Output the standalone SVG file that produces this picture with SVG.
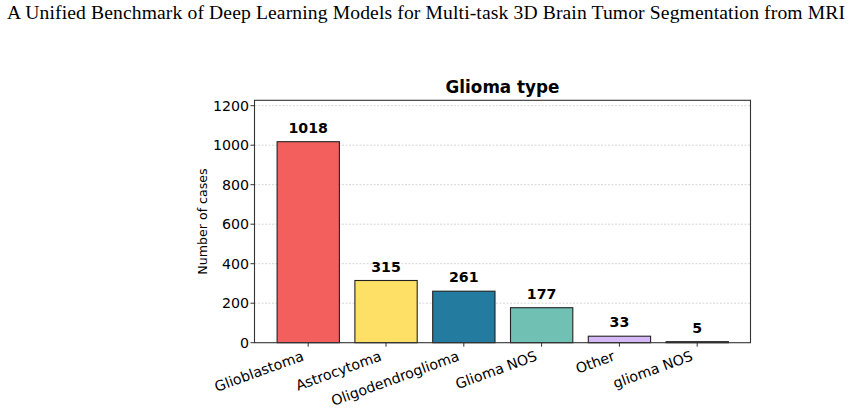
<svg xmlns="http://www.w3.org/2000/svg" width="852" height="410" viewBox="0 0 852 410">
<style>
.hdr{font-family:"Liberation Serif","Times New Roman",serif;font-size:19.6px;fill:#000}
.ttl{font-family:"DejaVu Sans",sans-serif;font-size:16.8px;font-weight:bold;fill:#000}
.tick{font-family:"DejaVu Sans",sans-serif;font-size:14.2px;fill:#000}
.val{font-family:"DejaVu Sans",sans-serif;font-size:14.2px;font-weight:bold;fill:#000;text-anchor:middle}
.ylab{font-family:"DejaVu Sans",sans-serif;font-size:12.6px;fill:#000;text-anchor:middle}
.grid{stroke:#cccccc;stroke-width:0.8;stroke-dasharray:2,1.5}
.bar{stroke:#222;stroke-width:1.1}
.spine{fill:none;stroke:#333;stroke-width:1.1}
.tk{stroke:#333;stroke-width:1}
</style>
<rect width="852" height="410" fill="#fff"/>
<text class="hdr" x="7" y="19" textLength="838" lengthAdjust="spacing">A Unified Benchmark of Deep Learning Models for Multi-task 3D Brain Tumor Segmentation from MRI</text>
<text class="ttl" x="502.5" y="93.3" text-anchor="middle">Glioma type</text>
<g id="grid">
<line class="grid" x1="254.5" y1="303.2" x2="750.5" y2="303.2"/>
<line class="grid" x1="254.5" y1="263.7" x2="750.5" y2="263.7"/>
<line class="grid" x1="254.5" y1="224.2" x2="750.5" y2="224.2"/>
<line class="grid" x1="254.5" y1="184.7" x2="750.5" y2="184.7"/>
<line class="grid" x1="254.5" y1="145.2" x2="750.5" y2="145.2"/>
<line class="grid" x1="254.5" y1="105.7" x2="750.5" y2="105.7"/>
</g>
<g id="bars">
<rect id="bar-glioblastoma" class="bar" x="277.1" y="141.7" width="62.3" height="201" fill="#f25f5c"/>
<rect id="bar-astrocytoma" class="bar" x="354.9" y="280.5" width="62.3" height="62.2" fill="#ffe066"/>
<rect id="bar-oligodendroglioma" class="bar" x="432.7" y="291.2" width="62.3" height="51.5" fill="#247ba0"/>
<rect id="bar-glioma-nos" class="bar" x="510.5" y="307.7" width="62.3" height="35" fill="#70c1b3"/>
<rect id="bar-other" class="bar" x="588.3" y="336.2" width="62.3" height="6.5" fill="#d5b8f5"/>
<rect id="bar-glioma-nos-lc" class="bar" x="666.1" y="341.7" width="62.3" height="1" fill="#333"/>
</g>
<g id="values">
<text class="val" x="308.2" y="132.7">1018</text>
<text class="val" x="386" y="271.5">315</text>
<text class="val" x="463.8" y="282.2">261</text>
<text class="val" x="541.6" y="298.7">177</text>
<text class="val" x="619.4" y="327.2">33</text>
<text class="val" x="697.2" y="332.7">5</text>
</g>
<g id="axes">
<rect class="spine" x="254.5" y="100.3" width="496" height="242.4"/>
<line class="tk" x1="250.5" y1="342.7" x2="254.5" y2="342.7"/>
<line class="tk" x1="250.5" y1="303.2" x2="254.5" y2="303.2"/>
<line class="tk" x1="250.5" y1="263.7" x2="254.5" y2="263.7"/>
<line class="tk" x1="250.5" y1="224.2" x2="254.5" y2="224.2"/>
<line class="tk" x1="250.5" y1="184.7" x2="254.5" y2="184.7"/>
<line class="tk" x1="250.5" y1="145.2" x2="254.5" y2="145.2"/>
<line class="tk" x1="250.5" y1="105.7" x2="254.5" y2="105.7"/>
<line class="tk" x1="308.2" y1="342.7" x2="308.2" y2="346.7"/>
<line class="tk" x1="386" y1="342.7" x2="386" y2="346.7"/>
<line class="tk" x1="463.8" y1="342.7" x2="463.8" y2="346.7"/>
<line class="tk" x1="541.6" y1="342.7" x2="541.6" y2="346.7"/>
<line class="tk" x1="619.4" y1="342.7" x2="619.4" y2="346.7"/>
<line class="tk" x1="697.2" y1="342.7" x2="697.2" y2="346.7"/>
</g>
<g id="yticks" class="tick" text-anchor="end">
<text x="249" y="347.8">0</text>
<text x="249" y="308.3">200</text>
<text x="249" y="268.8">400</text>
<text x="249" y="229.3">600</text>
<text x="249" y="189.8">800</text>
<text x="249" y="150.3">1000</text>
<text x="249" y="110.8">1200</text>
</g>
<text class="ylab" transform="translate(207,221.5) rotate(-90)">Number of cases</text>
<g id="xticks" class="tick" text-anchor="end">
<text transform="translate(304.6,360) rotate(-20)">Glioblastoma</text>
<text transform="translate(382.4,360) rotate(-20)">Astrocytoma</text>
<text transform="translate(460.2,360) rotate(-20)">Oligodendroglioma</text>
<text transform="translate(538,360) rotate(-20)">Glioma NOS</text>
<text transform="translate(615.8,360) rotate(-20)">Other</text>
<text transform="translate(693.6,360) rotate(-20)">glioma NOS</text>
</g>
</svg>
